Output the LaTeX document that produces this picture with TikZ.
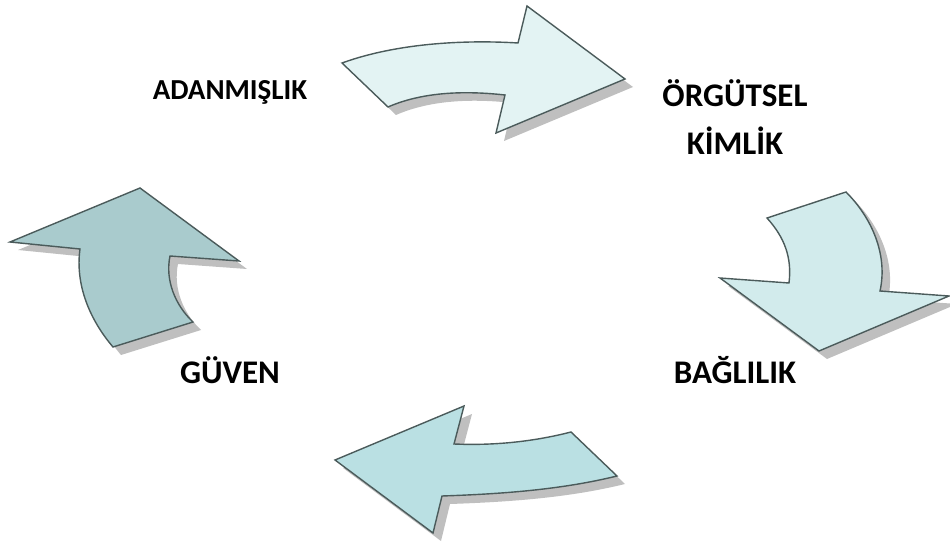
\documentclass[tikz,border=0pt]{standalone}
\usepackage{fontspec}
\setmainfont{Carlito}
\usetikzlibrary{shadows}
\definecolor{topfill}{HTML}{E3F3F3}
\definecolor{rightfill}{HTML}{D2EBEC}
\definecolor{bottomfill}{HTML}{BAE0E3}
\definecolor{leftfill}{HTML}{A9CBCD}
\definecolor{edge}{HTML}{4B5B5B}
\begin{document}
\begin{tikzpicture}[x=1pt,y=-1pt,node distance=47pt,
  curvedarrow/.style={draw=edge,line width=1.4pt,line join=miter,
    drop shadow={shadow xshift=8pt,shadow yshift=-8pt,fill=black!25,opacity=1}},
  word/.style={font=\bfseries\fontsize{33}{40}\selectfont,anchor=base}]
\useasboundingbox (0,0) rectangle (950,545);

\draw[curvedarrow,fill=topfill] (342,63) .. controls (400,42) and (470,40) .. (518,43)
  -- (527,6) -- (625,79) -- (496,133) -- (505,95)
  .. controls (460,90) and (420,93) .. (388,107) -- cycle;
\draw[curvedarrow,fill=rightfill] (767,218) -- (846,192)
  .. controls (872,218) and (888,255) .. (880,291)
  -- (949,296) -- (819,351) -- (720,278) -- (789,283)
  .. controls (792,258) and (785,238) .. cycle;
\draw[curvedarrow,fill=bottomfill] (571,432) -- (617,476)
  .. controls (560,490) and (500,494) .. (442,496)
  -- (433,533) -- (335,460) -- (464,406) -- (454,444)
  .. controls (500,446) and (540,440) .. cycle;
\draw[curvedarrow,fill=leftfill] (113,347) -- (193,322)
  .. controls (175,305) and (165,280) .. (170,256)
  -- (239,261) -- (140,188) -- (10,242) -- (80,249)
  .. controls (75,285) and (90,320) .. cycle;

\node[word,font=\bfseries\fontsize{29}{35}\selectfont] (adanmislik) at (230,100) {ADANMIŞLIK};
\node[word] (orgutsel) at (735,107) {ÖRGÜTSEL};
\node[word] (kimlik) [below of=orgutsel] {KİMLİK};
\node[word] (baglilik) at (735,383) {BAĞLILIK};
\node[word] (guven) at (230,383) {GÜVEN};
\end{tikzpicture}
\end{document}
